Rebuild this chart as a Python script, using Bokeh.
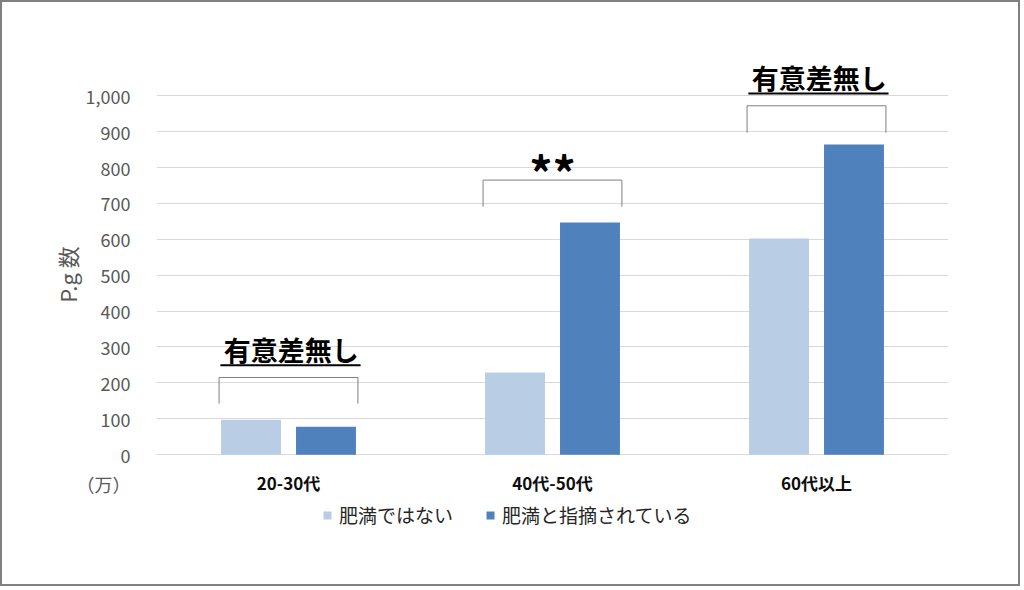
from bokeh.plotting import figure
from bokeh.models import (ColumnDataSource, FactorRange, FixedTicker, NumeralTickFormatter,
                          Label, Legend, LegendItem, Range1d)
from bokeh.transform import dodge
from bokeh.core.properties import value
from bokeh.embed import file_html
from bokeh.resources import INLINE

# ---- data ----
categories = ["20-30代", "40代-50代", "60代以上"]
series_names = ["肥満ではない", "肥満と指摘されている"]
not_obese = [97, 229, 602]
obese = [78, 647, 864]
y_ticks = [0, 100, 200, 300, 400, 500, 600, 700, 800, 900, 1000]
unit_label = "（万）"
y_title = "P.g 数"
sig_labels = ["有意差無し", "**", "有意差無し"]
bracket_low = [142, 691, 897]
bracket_high = [215, 765, 972]

FONT = "Noto Sans CJK JP"
LIGHT = "#B9CDE5"
DARK = "#4F81BD"
GRAY_TXT = "#595959"
UNIT_Y = -81
CAT_LABEL_Y = -78

src = ColumnDataSource(dict(cat=categories, a=not_obese, b=obese,
                            lab_y=[CAT_LABEL_Y] * len(categories)))

p = figure(x_range=FactorRange(*categories), y_range=Range1d(-320, 1140),
           width=1020, height=586, output_backend="svg", toolbar_location=None,
           min_border_left=154, min_border_right=74, min_border_top=43, min_border_bottom=19)
p.styles = {"border": "2px solid #808080"}
p.outline_line_color = None
p.background_fill_color = "white"
p.border_fill_color = "white"

r1 = p.vbar(x=dodge("cat", -0.142, range=p.x_range), top="a", width=0.227, source=src,
            fill_color=LIGHT, line_color=None)
r2 = p.vbar(x=dodge("cat", 0.142, range=p.x_range), top="b", width=0.227, source=src,
            fill_color=DARK, line_color=None)

# grid / axes
p.xgrid.visible = False
p.xaxis.visible = False
p.ygrid.ticker = FixedTicker(ticks=y_ticks)
p.ygrid.grid_line_color = "#D9D9D9"
p.yaxis.ticker = FixedTicker(ticks=[UNIT_Y] + y_ticks)
p.yaxis.formatter = NumeralTickFormatter(format="0,0")
p.yaxis.major_label_overrides = {UNIT_Y: unit_label}
p.yaxis.axis_line_color = None
p.yaxis.major_tick_line_color = None
p.yaxis.minor_tick_line_color = None
p.yaxis.major_label_standoff = 20
p.yaxis.major_label_text_font = FONT
p.yaxis.major_label_text_font_size = "18px"
p.yaxis.major_label_text_color = GRAY_TXT
# leading ideographic spaces lift the (frame-centred) title to the plotted 0-1000 band
p.yaxis.axis_label = "\u3000\u3000\u3000" + y_title
p.yaxis.axis_label_text_font = FONT
p.yaxis.axis_label_text_font_size = "22px"
p.yaxis.axis_label_text_font_style = "normal"
p.yaxis.axis_label_text_color = GRAY_TXT
p.yaxis.axis_label_standoff = -9

# category labels
p.text(x="cat", y="lab_y", text="cat", source=src, text_align="center",
       text_baseline="middle", text_font=value(FONT), text_font_size="17px",
       text_font_style="bold", text_color="#0D0D0D")

# significance brackets and labels
half = 0.263
xs, ys = [], []
ux0, ux1, uy = [], [], []
for i, (lab, lo, hi) in enumerate(zip(sig_labels, bracket_low, bracket_high)):
    c = i + 0.5
    xs.append([c - half, c - half, c + half, c + half])
    ys.append([lo, hi, hi, lo])
    if lab == "**":
        p.add_layout(Label(x=c, y=hi + 25, text=lab, text_align="center",
                           text_baseline="alphabetic", text_font=FONT,
                           text_font_size="46px", text_font_style="bold", text_color="black"))
    else:
        p.add_layout(Label(x=c + 0.01, y=hi + 78, text=lab, text_align="center",
                           text_baseline="middle", text_font=FONT,
                           text_font_size="27px", text_font_style="bold", text_color="black"))
        ux0.append(c - half + 0.005)
        ux1.append(c + half + 0.01)
        uy.append(hi + 34)
p.multi_line(xs=xs, ys=ys, line_color="#7F7F7F", line_width=1)
p.segment(x0=ux0, y0=uy, x1=ux1, y1=uy, line_color="black", line_width=2)

legend = Legend(items=[LegendItem(label=series_names[0], renderers=[r1]),
                       LegendItem(label=series_names[1], renderers=[r2])],
                orientation="horizontal", location=(166, 41),
                glyph_width=10, glyph_height=10, label_standoff=7, spacing=32,
                padding=0, margin=0, border_line_color=None, background_fill_alpha=0,
                label_text_font=FONT, label_text_font_size="19px", label_height=20,
                label_text_color="#262626")
p.add_layout(legend)

open("out.html", "w").write(file_html(p, INLINE))
